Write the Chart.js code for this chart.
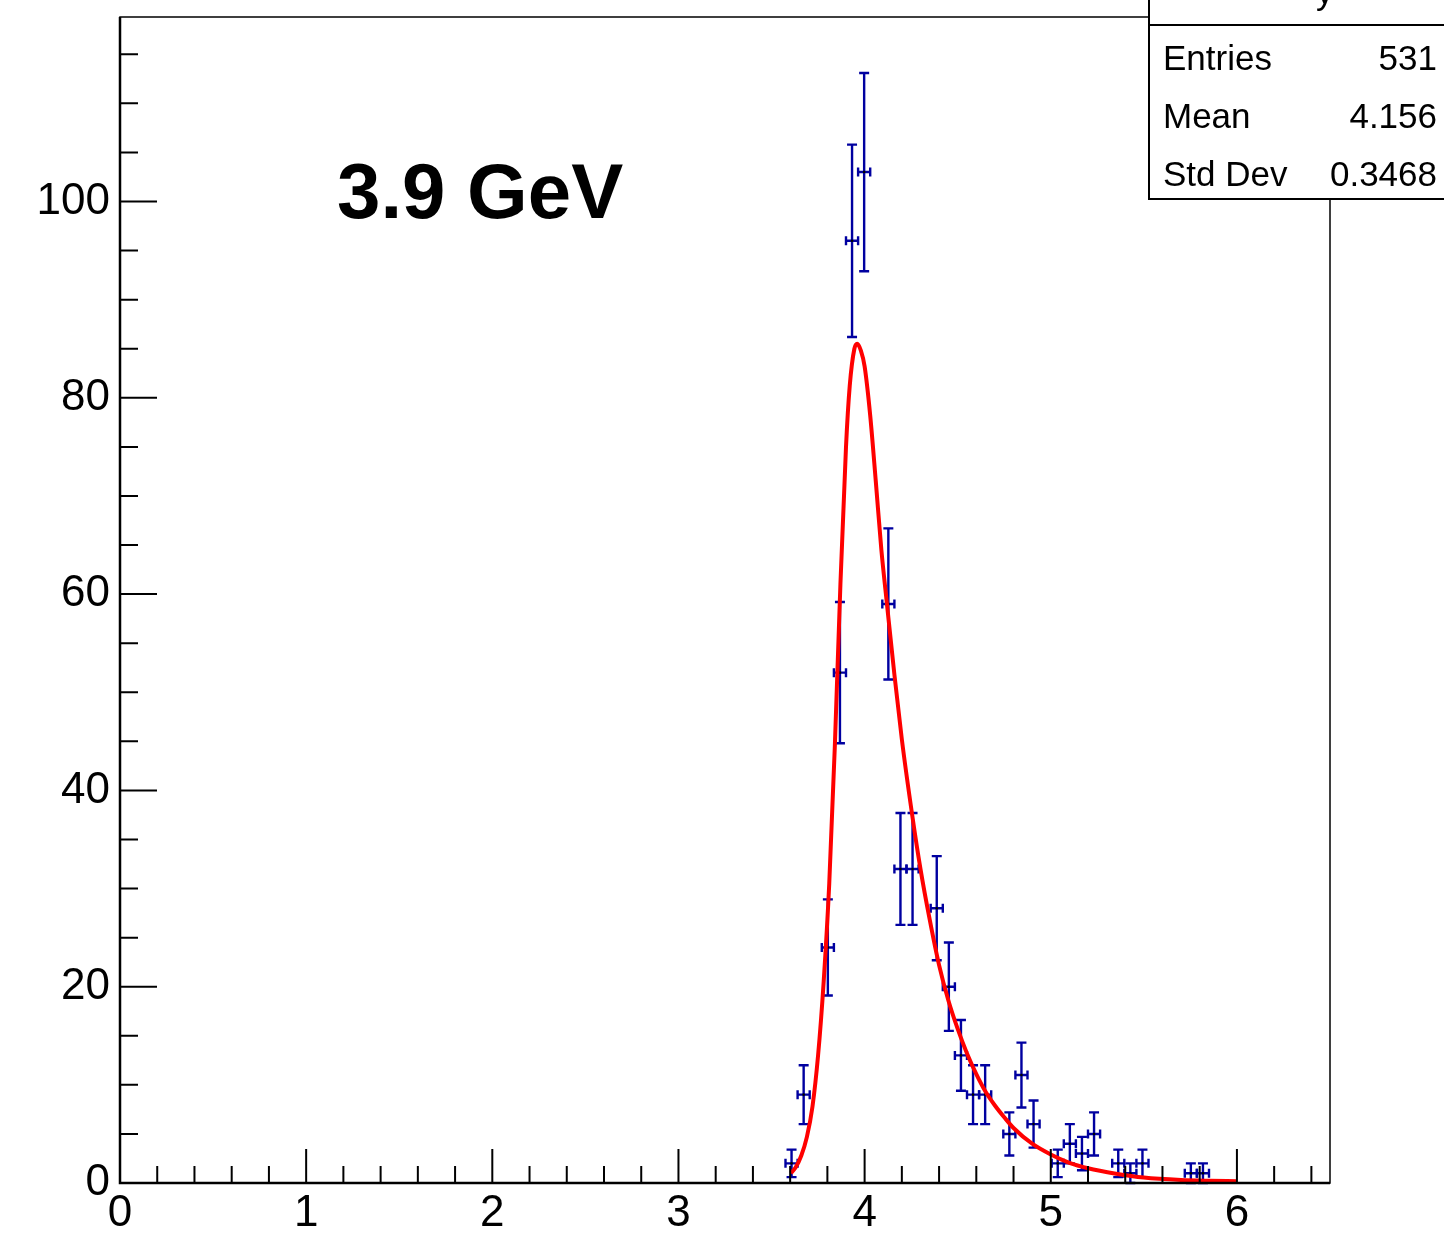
<!DOCTYPE html>
<html>
<head>
<meta charset="utf-8">
<script src="https://cdn.jsdelivr.net/npm/chart.js@4/dist/chart.umd.min.js"></script>
<style>
  html, body { margin: 0; padding: 0; background: #fff; }
  #c { display: block; }
</style>
</head>
<body>
<canvas id="c" width="1444" height="1237"></canvas>
<script>
// ---------------- DATA ----------------
const binWidth = 0.065;
const binCenters = [3.6075, 3.6725, 3.8025, 3.8675, 3.9325, 3.9975, 4.1275, 4.1925, 4.2575,
  4.3875, 4.4525, 4.5175, 4.5825, 4.6475, 4.7775, 4.8425, 4.9075, 5.0375, 5.1025, 5.1675,
  5.2325, 5.3625, 5.4275, 5.4925, 5.7525, 5.8175];
const counts = [2, 9, 24, 52, 96, 103, 59, 32, 32, 28, 20, 13, 9, 9, 5, 11, 6, 2, 4, 3, 5, 2, 1, 2, 1, 1];
const countErrors = [1.4, 3.0, 4.9, 7.2, 9.8, 10.1, 7.7, 5.7, 5.7, 5.3, 4.5, 3.6, 3.0, 3.0, 2.2, 3.3,
  2.4, 1.4, 2.0, 1.7, 2.2, 1.4, 1.0, 1.4, 1.0, 1.0];

const fitX = [3.604, 3.63, 3.66, 3.69, 3.72, 3.75, 3.78, 3.81, 3.84, 3.87, 3.90, 3.92, 3.945, 3.96,
  3.98, 4.00, 4.03, 4.06, 4.09, 4.12, 4.16, 4.20, 4.254, 4.30, 4.35, 4.40, 4.45, 4.50, 4.55, 4.60,
  4.65, 4.70, 4.75, 4.80, 4.90, 5.00, 5.10, 5.20, 5.35, 5.50, 5.70, 5.85, 6.00];
const fitY = [1.0, 1.6, 2.8, 4.7, 7.8, 13.0, 20.5, 30.5, 44.5, 61.0, 75.0, 81.2, 85.0, 85.5,
  84.8, 83.2, 78.2, 71.5, 64.5, 59.0, 51.8, 45.2, 37.7, 32.0, 26.8, 22.2, 18.6, 15.7, 13.2, 11.1,
  9.3, 7.9, 6.7, 5.6, 4.0, 2.9, 2.05, 1.5, 0.95, 0.55, 0.3, 0.22, 0.18];

const xTickLabels = ['0', '1', '2', '3', '4', '5', '6'];
const yTickLabels = ['0', '20', '40', '60', '80', '100'];

const labelText = '3.9 GeV';
const statsTitle = 'y';
const statsNames = ['Entries', 'Mean', 'Std Dev'];
const statsValues = ['531', '4.156', '0.3468'];

// ---------------- STYLE ----------------
const FONT = '"Liberation Sans", Arial, Helvetica, sans-serif';
const BLUE = '#0000a0';

const rootPlugin = {
  id: 'rootStyle',
  beforeDatasetsDraw(chart) {
    const ctx = chart.ctx;
    const xs = chart.scales.x, ys = chart.scales.y;
    ctx.save();
    ctx.strokeStyle = BLUE;
    ctx.lineWidth = 2.4;
    ctx.lineCap = 'butt';
    for (let i = 0; i < binCenters.length; i++) {
      const cx = xs.getPixelForValue(binCenters[i]);
      const cy = ys.getPixelForValue(counts[i]);
      const yTop = ys.getPixelForValue(counts[i] + countErrors[i]);
      const yBot = ys.getPixelForValue(Math.max(0, counts[i] - countErrors[i]));
      const xL = xs.getPixelForValue(binCenters[i] - binWidth / 2);
      const xR = xs.getPixelForValue(binCenters[i] + binWidth / 2);
      ctx.beginPath();
      ctx.moveTo(cx, yTop); ctx.lineTo(cx, yBot);
      ctx.moveTo(cx - 5, yTop); ctx.lineTo(cx + 5, yTop);
      ctx.moveTo(cx - 5, yBot); ctx.lineTo(cx + 5, yBot);
      ctx.moveTo(xL, cy); ctx.lineTo(xR, cy);
      ctx.moveTo(xL, cy - 4.5); ctx.lineTo(xL, cy + 4.5);
      ctx.moveTo(xR, cy - 4.5); ctx.lineTo(xR, cy + 4.5);
      ctx.stroke();
    }
    ctx.restore();
  },
  afterDraw(chart) {
    const ctx = chart.ctx;
    const xs = chart.scales.x, ys = chart.scales.y;
    const a = chart.chartArea;
    ctx.save();
    ctx.strokeStyle = '#000';
    ctx.lineWidth = 1.5;
    ctx.strokeRect(a.left, a.top, a.right - a.left, a.bottom - a.top);
    ctx.lineWidth = 2.5;
    ctx.beginPath();
    ctx.moveTo(a.left, a.top); ctx.lineTo(a.left, a.bottom); ctx.lineTo(a.right, a.bottom);
    ctx.stroke();
    ctx.lineWidth = 2;
    ctx.beginPath();
    for (let k = 0; k <= 32; k++) {
      const px = xs.getPixelForValue(k * 0.2);
      const len = (k % 5 === 0) ? 34 : 17;
      ctx.moveTo(px, a.bottom); ctx.lineTo(px, a.bottom - len);
    }
    for (let k = 0; k <= 23; k++) {
      const py = ys.getPixelForValue(k * 5);
      const len = (k % 4 === 0) ? 37 : 18;
      ctx.moveTo(a.left, py); ctx.lineTo(a.left + len, py);
    }
    ctx.stroke();

    ctx.fillStyle = '#000';
    ctx.font = 'bold 78px ' + FONT;
    ctx.textAlign = 'left';
    ctx.textBaseline = 'alphabetic';
    ctx.fillText(labelText, 337, 218);

    const bx = 1149, bTop = -20, bBottom = 199, bRight = 1460;
    ctx.fillStyle = '#fff';
    ctx.fillRect(bx, bTop, bRight - bx, bBottom - bTop);
    ctx.strokeStyle = '#000';
    ctx.lineWidth = 2;
    ctx.strokeRect(bx, bTop, bRight - bx, bBottom - bTop);
    ctx.beginPath();
    ctx.moveTo(bx, 25); ctx.lineTo(bRight, 25);
    ctx.stroke();
    ctx.fillStyle = '#000';
    ctx.font = '35px ' + FONT;
    ctx.textAlign = 'left';
    ctx.fillText(statsTitle, 1316, 4);
    const baselines = [70, 128, 186];
    for (let i = 0; i < statsNames.length; i++) {
      ctx.textAlign = 'left';
      ctx.fillText(statsNames[i], 1163, baselines[i]);
      ctx.textAlign = 'right';
      ctx.fillText(statsValues[i], 1437, baselines[i]);
    }
    ctx.restore();
  }
};

function zeroPad(s) { s.paddingTop = 0; s.paddingBottom = 0; s.paddingLeft = 0; s.paddingRight = 0; }

const ctx = document.getElementById('c').getContext('2d');
new Chart(ctx, {
  type: 'scatter',
  data: {
    datasets: [
      {
        label: 'hist',
        data: binCenters.map((x, i) => ({ x: x, y: counts[i] })),
        showLine: false,
        pointRadius: 1.3,
        pointBackgroundColor: '#000',
        pointBorderWidth: 0,
        order: 2
      },
      {
        label: 'fit',
        data: fitX.map((x, i) => ({ x: x, y: fitY[i] })),
        showLine: true,
        borderColor: '#ff0000',
        borderWidth: 4,
        pointRadius: 0,
        fill: false,
        cubicInterpolationMode: 'monotone',
        order: 1
      }
    ]
  },
  options: {
    responsive: false,
    animation: false,
    devicePixelRatio: 1,
    layout: { padding: { left: 0, top: 17, right: 114, bottom: 0 } },
    plugins: { legend: { display: false }, tooltip: { enabled: false } },
    scales: {
      x: {
        type: 'linear', min: 0, max: 6.5,
        grid: { display: false, drawTicks: false },
        border: { display: false },
        ticks: {
          stepSize: 1, includeBounds: false, autoSkip: false, maxRotation: 0,
          padding: 4, color: '#000',
          font: { family: FONT, size: 44 },
          callback: (v) => xTickLabels[Math.round(v)] ?? ''
        },
        afterFit: (s) => { s.height = 54; zeroPad(s); }
      },
      y: {
        type: 'linear', min: 0, max: 118.8,
        grid: { display: false, drawTicks: false },
        border: { display: false },
        ticks: {
          stepSize: 20, includeBounds: false, autoSkip: false,
          padding: 10, color: '#000',
          font: { family: FONT, size: 44 },
          callback: (v) => yTickLabels[Math.round(v / 20)] ?? ''
        },
        afterFit: (s) => { s.width = 120; zeroPad(s); }
      }
    }
  },
  plugins: [rootPlugin]
});
</script>
</body>
</html>
